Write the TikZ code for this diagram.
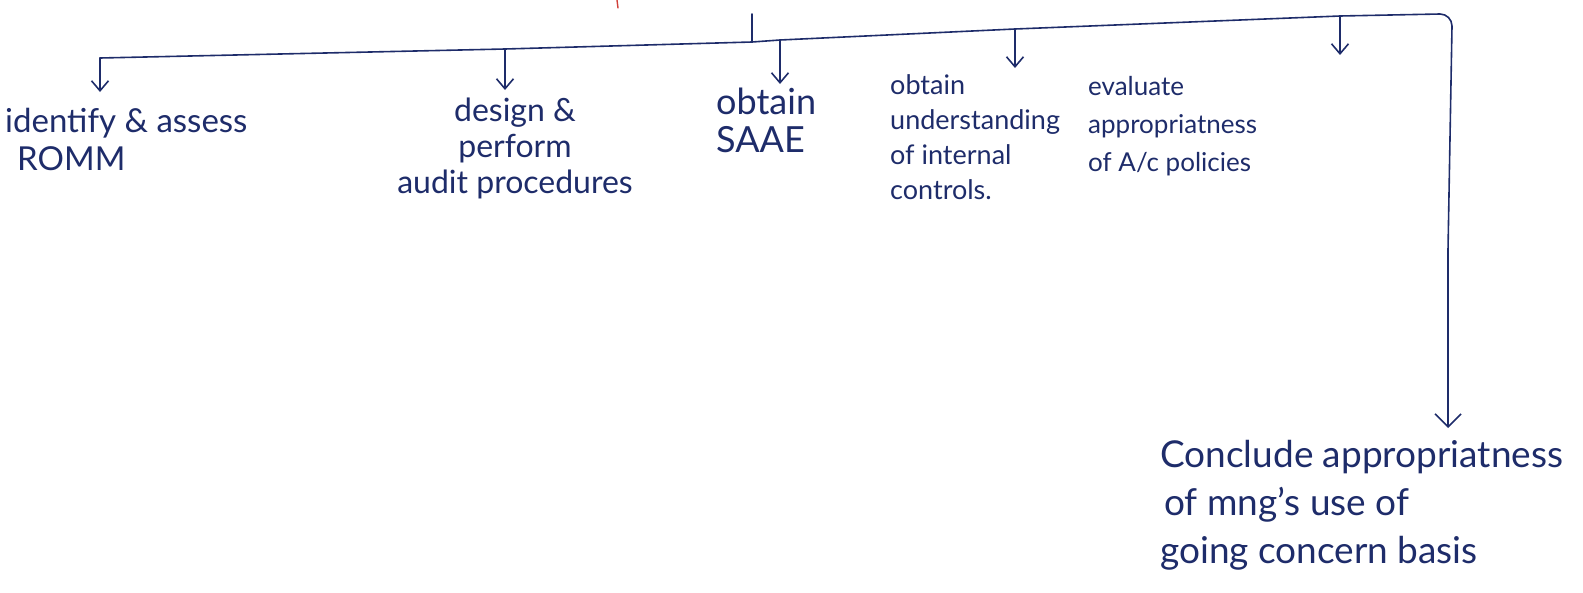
\documentclass[tikz,border=0pt]{standalone}
\usepackage{fontspec}
\setmainfont{Lato}
\usetikzlibrary{arrows.meta}
\definecolor{ink}{HTML}{1E2C6A}
\definecolor{redink}{HTML}{D0403A}
\tikzset{
  pen/.style={draw=ink, line width=1.6pt, line cap=round, line join=round},
  arr/.style={pen, -{Straight Barb[length=10pt,width=17pt,line width=1.6pt]}},
  bigarr/.style={pen, -{Straight Barb[length=13pt,width=26pt,line width=1.6pt]}},
  lbl/.style={text=ink, inner sep=0pt, anchor=north west, align=left},
}
\begin{document}
\begin{tikzpicture}[x=1pt,y=-1pt]
\useasboundingbox (0,0) rectangle (1583,592);
% bar points
\coordinate (b1) at (100,58);
\coordinate (b2) at (505,49);
\coordinate (b0) at (752,42);
\coordinate (b3) at (780,40);
\coordinate (b4) at (1015,29);
\coordinate (b5) at (1340,16);
\coordinate (bc) at (1440,14);
\coordinate (top) at (752,14);
\coordinate (red1) at (617,0);
\coordinate (red2) at (618,8);
% nodes
\node[lbl, font=\fontsize{33}{38}\selectfont] (n1) at (5,108) {identify \& assess\\\hspace*{12pt}ROMM};
\node[lbl, anchor=north, align=center, font=\fontsize{32}{36}\selectfont] (n2) at (515,98) {design \&\\perform\\audit procedures};
\node[lbl, font=\fontsize{36}{38}\selectfont] (n3) at (716,88) {obtain\\SAAE};
\node[lbl, font=\fontsize{27}{35}\selectfont] (n4) at (890,74) {obtain\\understanding\\of internal\\controls.};
\node[lbl, font=\fontsize{26}{38}\selectfont] (n5) at (1088,76) {evaluate\\appropriatness\\of A/c policies};
\node[lbl, font=\fontsize{37}{48}\selectfont] (n6) at (1160,440) {Conclude appropriatness\\\hspace*{4pt}of mng's use of\\going concern basis};
% connectors
\draw[redink, line width=1.4pt, line cap=round] (red1) -- (red2);
\draw[pen] (top) -- (b0);
\draw[pen] (b1) -- (b2) -- (b0) -- (b3) -- (b4) -- (b5) -- (bc) to[out=0,in=90] (1452,26) -- (1448,250);
\draw[bigarr] (1448,250) -- (1448,428);
\draw[arr] (b1) -- (100,92);
\draw[arr] (b2) -- (505,90);
\draw[arr] (b3) -- (780,84);
\draw[arr] (b4) -- (1015,68);
\draw[arr] (b5) -- (1340,55);
\end{tikzpicture}
\end{document}
